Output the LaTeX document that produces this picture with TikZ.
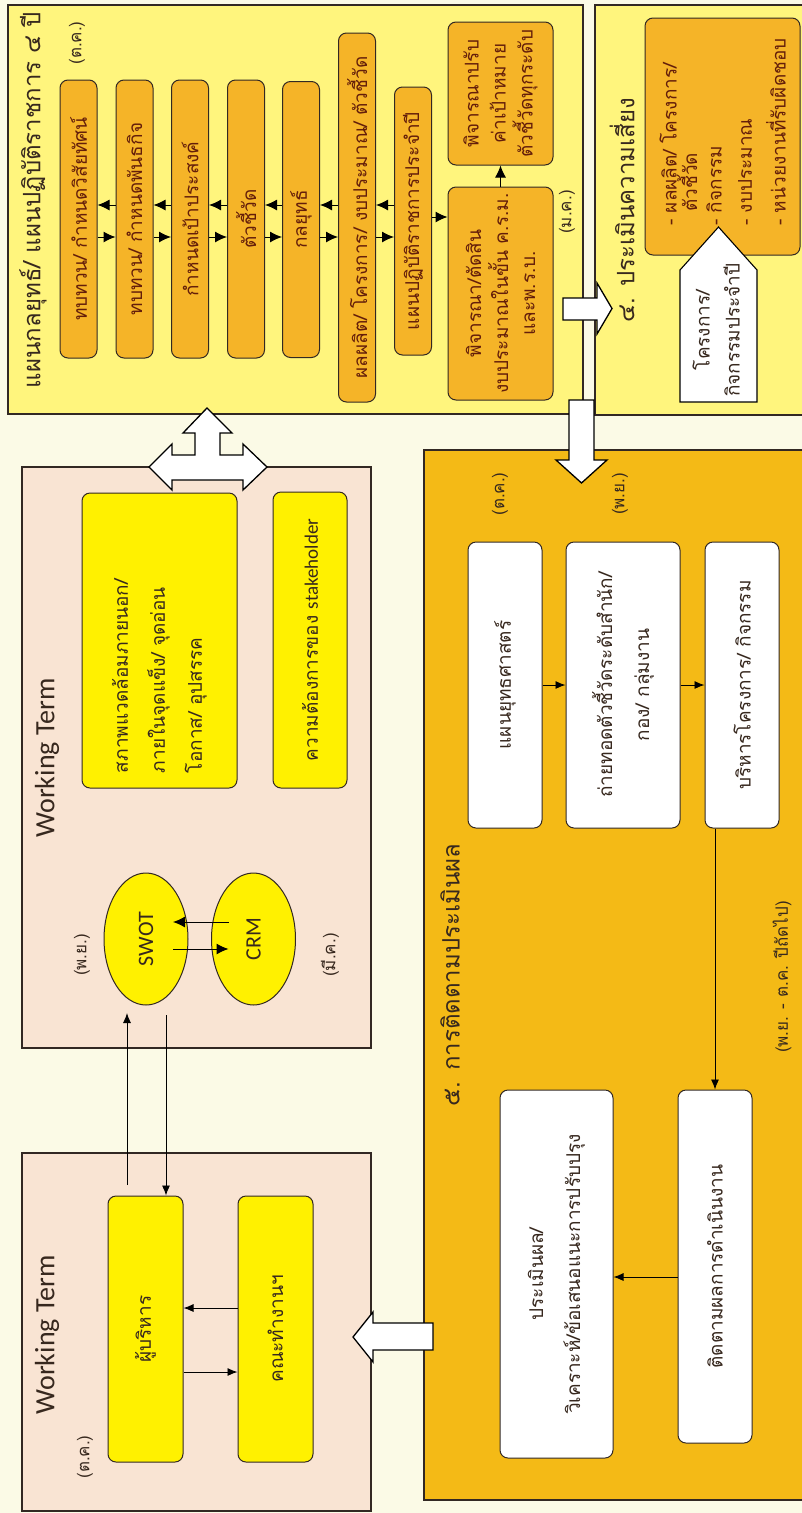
\documentclass[tikz,border=0pt]{standalone}
\usepackage{fontspec}
\setmainfont[Script=Thai]{Loma}
\newfontfamily\lat{Carlito}
\usetikzlibrary{shapes.geometric,arrows.meta,calc}

\definecolor{bgc}{RGB}{251,250,230}
\definecolor{panelY}{RGB}{255,245,125}
\definecolor{boxO}{RGB}{245,180,40}
\definecolor{peach}{RGB}{249,228,211}
\definecolor{brightY}{RGB}{255,241,0}
\definecolor{gold}{RGB}{244,186,22}
\definecolor{txt}{RGB}{55,40,30}
\definecolor{maroon}{RGB}{100,30,10}
\definecolor{edge}{RGB}{50,40,35}

\tikzset{
 panel/.style={draw=edge, line width=1.1pt},
 rbox/.style={draw=edge, line width=1pt, rounded corners=8pt, rotate=90, align=center, inner sep=1pt, font=\fontsize{19}{27}\selectfont},
 obox/.style={rbox, fill=boxO, text=maroon},
 ybox/.style={rbox, fill=brightY, text=txt, font=\fontsize{19}{37}\selectfont},
 wbox/.style={rbox, fill=white, text=txt, font=\fontsize{19}{37}\selectfont},
 ell/.style={ellipse, draw=edge, fill=brightY, line width=1pt, rotate=90, inner sep=0pt, minimum width=132pt, minimum height=84pt, text=txt, font=\lat\fontsize{22}{24}\selectfont},
 lbl/.style={rotate=90, text=txt, inner sep=0pt, font=\fontsize{17}{20}\selectfont},
 ttl/.style={rotate=90, text=txt, inner sep=0pt, font=\fontsize{24}{28}\selectfont},
 wt/.style={rotate=90, text=txt, inner sep=0pt, font=\lat\fontsize{28}{30}\selectfont},
 item/.style={rotate=90, text=maroon, inner sep=0pt, anchor=west, font=\fontsize{19}{22}\selectfont},
 arr/.style={-{Latex[length=10pt,width=8pt]}, line width=0.9pt, draw=black},
 barr/.style={-{Latex[length=12pt,width=11pt]}, line width=1pt, draw=black},
 blockarrow/.style={fill=white, draw=black, line width=1.3pt, line join=miter},
}

\begin{document}
\begin{tikzpicture}[x=1pt,y=-1pt]
\useasboundingbox (0,0) rectangle (802,1513);
\clip (0,0) rectangle (802,1513);
\fill[bgc] (0,0) rectangle (802,1513);

% panels
\draw[panel, fill=panelY] (8,5) rectangle (583,414);
\draw[panel, fill=panelY] (595,5) rectangle (815,415);
\draw[panel, fill=peach] (22,467) rectangle (371,1048);
\draw[panel, fill=peach] (22,1153) rectangle (371,1511);
\draw[panel, fill=gold] (424,450) rectangle (815,1500);

% block arrows
\draw[blockarrow] (207,408) -- (232,433) -- (220,433) -- (220,455) -- (243,455) -- (243,444) -- (267,467) -- (243,490) -- (243,480) -- (172,480) -- (172,490) -- (149,467) -- (172,444) -- (172,455) -- (195,455) -- (195,433) -- (183,433) -- cycle;
\draw[blockarrow] (569,400) -- (594,400) -- (594,460) -- (607,460) -- (581.5,483) -- (556,460) -- (569,460) -- cycle;
\draw[blockarrow] (563,298) -- (597,298) -- (597,283) -- (612,308.5) -- (597,334) -- (597,320) -- (563,320) -- cycle;
\draw[blockarrow] (433,1323) -- (373,1323) -- (373,1312) -- (353,1337) -- (373,1362) -- (373,1350) -- (433,1350) -- cycle;

% ---- top panel: strategic plan
\node[ttl] (t1) at (33,200) {แผนกลยุทธ์/ แผนปฏิบัติราชการ ๔ ปี};
\node[lbl] (l1) at (77,43) {(ต.ค.)};
\node[lbl] (l2) at (567,212) {(ม.ค.)};
\node[obox, minimum width=278pt, minimum height=37pt] (b1) at (78.5,219) {ทบทวน/ กำหนดวิสัยทัศน์};
\node[obox, minimum width=278pt, minimum height=37pt] (b2) at (134.5,219) {ทบทวน/ กำหนดพันธกิจ};
\node[obox, minimum width=278pt, minimum height=37pt] (b3) at (190,219) {กำหนดเป้าประสงค์};
\node[obox, minimum width=278pt, minimum height=37pt] (b4) at (246,219) {ตัวชี้วัด};
\node[obox, minimum width=276pt, minimum height=37pt] (b5) at (301,219.5) {กลยุทธ์};
\node[obox, minimum width=369pt, minimum height=37pt] (b6) at (357,217.5) {ผลผลิต/ โครงการ/ งบประมาณ/ ตัวชี้วัด};
\node[obox, minimum width=268pt, minimum height=37pt] (b7) at (413,221) {แผนปฏิบัติราชการประจำปี};
\node[obox, minimum width=213pt, minimum height=105pt] (b8) at (500.5,293.5) {พิจารณา/ตัดสิน\\งบประมาณในขั้น ค.ร.ม.\\และพ.ร.บ.};
\node[obox, minimum width=143pt, minimum height=105pt] (b9) at (500.5,93.5) {พิจารณาปรับ\\ค่าเป้าหมาย\\ตัวชี้วัดทุกระดับ};

\foreach \a/\b in {b1/b2,b2/b3,b3/b4,b4/b5,b5/b6,b6/b7}{
  \draw[barr] (\b.north |- 0,205) -- (\a.south |- 0,205);
  \draw[barr] (\a.south |- 0,237) -- (\b.north |- 0,237);
}
\draw[barr] (b7.south |- 0,217) -- (b8.north |- 0,217);
\draw[barr] (b8.east) -- (b9.west);

% ---- top right panel: risk
\node[ttl] (t2) at (622,210) {๔. ประเมินความเสี่ยง};
\draw[draw=edge, line width=1pt, rounded corners=8pt, fill=boxO] (645,18) rectangle (800,255);
\node[item] (i1) at (668,226) {- ผลผลิต/ โครงการ/};
\node[item] (i2) at (687,212) {ตัวชี้วัด};
\node[item] (i3) at (714,226) {- กิจกรรม};
\node[item] (i4) at (745,226) {- งบประมาณ};
\node[item] (i5) at (776,226) {- หน่วยงานที่รับผิดชอบ};
\draw[blockarrow, line width=1.1pt] (680,402) -- (680,270) -- (718.5,227) -- (757,270) -- (757,402) -- cycle;
\node[rotate=90, align=center, text=txt, font=\fontsize{19}{30}\selectfont] (pa) at (716,330) {โครงการ/\\กิจกรรมประจำปี};

% ---- upper working term panel
\node[wt] (wt1) at (47,758) {Working Term};
\node[ybox, minimum width=295pt, minimum height=155pt, text width=265pt, align=left] (ya) at (159.5,640.5) {สภาพแวดล้อมภายนอก/\\ภายในจุดแข็ง/ จุดอ่อน\\โอกาส/ อุปสรรค};
\node[ybox, minimum width=296pt, minimum height=74pt] (yb) at (310,640) {ความต้องการของ {\lat stakeholder}};
\node[ell] (swot) at (146,939) {SWOT};
\node[ell] (crm) at (253.5,939) {CRM};
\node[lbl] (l3) at (82,955) {(พ.ย.)};
\node[lbl] (l4) at (330,955) {(มี.ค.)};
\draw[barr] ($(crm.center)+(-25,-17)$) -- ($(swot.center)+(27,-17)$);
\draw[barr] ($(swot.center)+(27,10)$) -- ($(crm.center)+(-25,10)$);

% ---- lower working term panel
\node[wt] (wt2) at (47,1335) {Working Term};
\node[lbl] (l5) at (85,1457) {(ต.ค.)};
\node[ybox, minimum width=266pt, minimum height=75pt] (p1) at (145.5,1329) {ผู้บริหาร};
\node[ybox, minimum width=266pt, minimum height=75pt] (p2) at (275.5,1329) {คณะทำงานฯ};
\draw[arr] (p2.north |- 0,1308) -- (p1.south |- 0,1308);
\draw[arr] (p1.south |- 0,1372) -- (p2.north |- 0,1372);
\coordinate (u0) at (127,1185);
\coordinate (u1) at (127,1013);
\coordinate (d0) at (166,1015);
\draw[arr] (u0) -- (u1);
\draw[arr] (d0) -- (p1.east -| d0);

% ---- monitoring panel
\node[ttl] (t3) at (450,975) {๕. การติดตามประเมินผล};
\node[lbl] (l6) at (500,494) {(ต.ค.)};
\node[lbl] (l7) at (620,494) {(พ.ย.)};
\node[lbl] (l8) at (782,977) {(พ.ย. - ต.ค. ปีถัดไป)};
\node[wbox, minimum width=286pt, minimum height=74pt] (w1) at (505,685) {แผนยุทธศาสตร์};
\node[wbox, minimum width=286pt, minimum height=114pt] (w2) at (623,685) {ถ่ายทอดตัวชี้วัดระดับสำนัก/\\กอง/ กลุ่มงาน};
\node[wbox, minimum width=286pt, minimum height=74pt] (w3) at (742,685) {บริหารโครงการ/ กิจกรรม};
\node[wbox, minimum width=368pt, minimum height=113pt] (w4) at (556.5,1274) {ประเมินผล/\\วิเคราะห์/ข้อเสนอแนะการปรับปรุง};
\node[wbox, minimum width=353pt, minimum height=74pt] (w5) at (715,1266.5) {ติดตามผลการดำเนินงาน};
\draw[arr] (w1.south) -- (w2.north);
\draw[arr] (w2.south) -- (w3.north);
\draw[arr] (w3.west -| w5.east) -- (w5.east);
\draw[arr] (w5.north |- 0,1277) -- (w4.south |- 0,1277);
\end{tikzpicture}
\end{document}
